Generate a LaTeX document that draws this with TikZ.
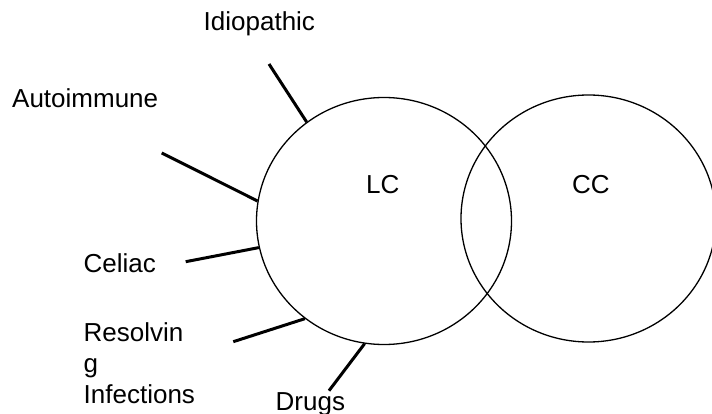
\documentclass[tikz,border=0pt]{standalone}
\usepackage{fontspec}
\setmainfont{Liberation Sans}
\usetikzlibrary{shapes.geometric}
\begin{document}
\begin{tikzpicture}[x=1pt,y=-1pt,
  lbl/.style={font=\fontsize{26}{30}\selectfont, inner sep=0pt, anchor=base west},
  ring/.style={ellipse, draw, line width=1.3pt, minimum width=255pt, minimum height=247pt, inner sep=0pt},
  spoke/.style={line width=3pt}]
\useasboundingbox (0,0) rectangle (712,414);
\clip (0,0) rectangle (712,414);
\node[ring] (lc) at (384,221) {};
\node[ring] (cc) at (588.5,218.5) {};
\node[lbl] (lcl) at (366,194) {LC};
\node[lbl] (ccl) at (572,194) {CC};
\node[lbl] (idio) at (203.5,31) {Idiopathic};
\node[lbl] (auto) at (12,108) {Autoimmune};
\node[lbl] (celi) at (83.5,272) {Celiac};
\node[lbl] (res1) at (83.5,341.5) {Resolvin};
\node[lbl] (res2) at (83.5,372) {g};
\node[lbl] (res3) at (83.5,403) {Infections};
\node[lbl] (drug) at (275.5,410.5) {Drugs};
\coordinate (pIdio) at (269,64);
\coordinate (pAuto) at (161.7,153);
\coordinate (pCeli) at (185.7,261.7);
\coordinate (pRes) at (233.3,341.7);
\coordinate (pDrug) at (329,390.7);
\draw[spoke] (pIdio) -- (lc.128.3);
\draw[spoke] (pAuto) -- (lc.171);
\draw[spoke] (pCeli) -- (lc.192.4);
\draw[spoke] (pRes) -- (lc.231.1);
\draw[spoke] (pDrug) -- (lc.261.3);
\end{tikzpicture}
\end{document}
